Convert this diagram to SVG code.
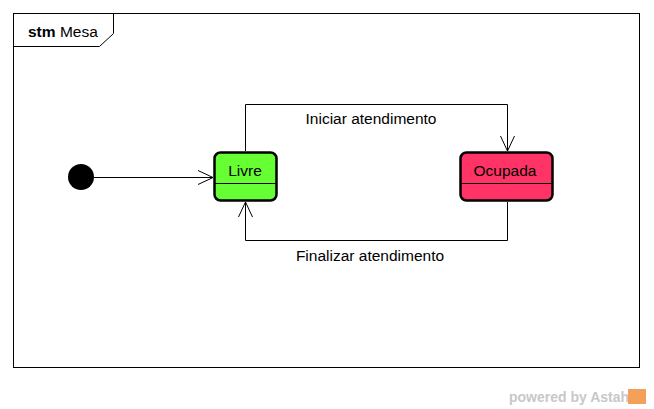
<svg xmlns="http://www.w3.org/2000/svg" width="654" height="409" viewBox="0 0 654 409">
<style>
text{font-family:"Liberation Sans",Arial,sans-serif;font-size:15.5px;fill:#000}
.state{stroke:#000;stroke-width:2.5}
.conn{fill:none;stroke:#000;stroke-width:1}
</style>
<defs>
<marker id="open" markerWidth="20" markerHeight="20" refX="16" refY="8" orient="auto" markerUnits="userSpaceOnUse">
<path d="M1,1 L16,8 L1,15" fill="none" stroke="#000" stroke-width="1"/>
</marker>
</defs>
<rect width="654" height="409" fill="#fff"/>
<g id="frame">
<rect x="13.5" y="13.5" width="626" height="354" fill="#fff" stroke="#000"/>
<path d="M13.5,46.5 H99.5 L113.5,33.5 V13.5" fill="none" stroke="#000"/>
<text x="28" y="36.5"><tspan font-weight="bold">stm</tspan> Mesa</text>
</g>
<g id="connectors">
<line class="conn" x1="94" y1="177.5" x2="213" y2="177.5" marker-end="url(#open)"/>
<path class="conn" d="M245.5,151 V104.5 H507.5 V151" marker-end="url(#open)"/>
<path class="conn" d="M507.5,202 V240.5 H245.5 V202" marker-end="url(#open)"/>
<text x="371" y="123.5" text-anchor="middle">Iniciar atendimento</text>
<text x="370" y="260.5" text-anchor="middle">Finalizar atendimento</text>
</g>
<g id="initial">
<circle cx="81" cy="177" r="13" fill="#000"/>
</g>
<g id="livre">
<rect class="state" x="214.5" y="152.5" width="62" height="48" rx="6" fill="#66FF33"/>
<line x1="214.5" y1="183.5" x2="276.5" y2="183.5" stroke="#000"/>
<text x="245" y="175.5" text-anchor="middle">Livre</text>
</g>
<g id="ocupada">
<rect class="state" x="460.5" y="152.5" width="92" height="48" rx="6" fill="#FF3366"/>
<line x1="460.5" y1="183.5" x2="552.5" y2="183.5" stroke="#000"/>
<text x="505" y="175.5" text-anchor="middle">Ocupada</text>
</g>
<g id="watermark">
<text x="509" y="402" style="font-size:14px;font-weight:bold;fill:#c8c8c8">powered by Astah</text>
<rect x="628" y="389" width="18" height="15" fill="#f5a05a"/>
</g>
</svg>
